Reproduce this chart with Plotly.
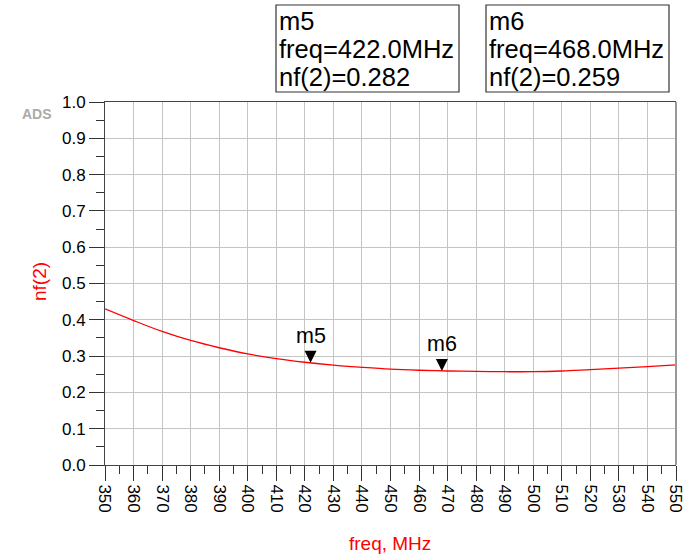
import plotly.graph_objects as go

freq = [350, 360, 370, 380, 390, 400, 410, 420, 430, 440, 450,
        460, 470, 480, 490, 500, 510, 520, 530, 540, 550]
nf2 = [0.430, 0.398, 0.368, 0.343, 0.323, 0.306, 0.293, 0.283, 0.275, 0.269, 0.264,
       0.261, 0.259, 0.258, 0.257, 0.257, 0.259, 0.263, 0.267, 0.271, 0.276]

marker_names = ["m5", "m6"]
marker_freq = [422.0, 468.0]
marker_nf = [0.282, 0.259]

x_ticks = list(range(350, 551, 10))
y_ticks = [round(i * 0.1, 1) for i in range(11)]

FONT = "Arial, 'Liberation Sans', sans-serif"

fig = go.Figure()
fig.add_trace(go.Scatter(x=freq, y=nf2, mode="lines", line=dict(color="#ff0000", width=1.3, shape="spline"),
                         hoverinfo="skip", showlegend=False))

shapes = []
annotations = []
for name, fx, fy in zip(marker_names, marker_freq, marker_nf):
    shapes.append(dict(type="path", xref="x", yref="y", xsizemode="pixel", ysizemode="pixel",
                       xanchor=fx, yanchor=fy, path="M-6,12 L6,12 L0,0 Z",
                       fillcolor="black", line=dict(color="black", width=0)))
    annotations.append(dict(x=fx, y=fy, xref="x", yref="y", text=name, showarrow=False,
                            yanchor="bottom", xanchor="center", yshift=13,
                            font=dict(family=FONT, size=21.5, color="black")))

# pixel helpers for the plot frame
PX0, PX1, PY0, PY1 = 105, 676, 102, 465
def px(xp):
    return (xp - PX0) / (PX1 - PX0)
def py(yp):
    return (PY1 - yp) / (PY1 - PY0)

boxes = [(276, 459), (486, 669)]
for (bx0, bx1), name, fx, fy in zip(boxes, marker_names, marker_freq, marker_nf):
    shapes.append(dict(type="rect", xref="paper", yref="paper", x0=px(bx0), x1=px(bx1),
                       y0=py(92), y1=py(5), line=dict(color="#333333", width=1.2), fillcolor="white"))
    lines = [name, f"freq={fx:.1f}MHz", f"nf(2)={fy:.3f}"]
    for i, t in enumerate(lines):
        annotations.append(dict(x=px(bx0 + 1), y=py(21 + 28 * i), xref="paper", yref="paper", text=t,
                                showarrow=False, xanchor="left", yanchor="middle",
                                font=dict(family=FONT, size=25.5, color="black")))

# right border
shapes.append(dict(type="line", xref="paper", yref="paper", x0=1, x1=1, y0=0, y1=1,
                   line=dict(color="#999999", width=2)))

annotations.append(dict(x=px(37), y=py(114), xref="paper", yref="paper", text="<b>ADS</b>", showarrow=False,
                        xanchor="center", yanchor="middle",
                        font=dict(family=FONT, size=14, color="#aaaaaa")))

# axis titles
annotations.append(dict(x=px(390), y=py(543), xref="paper", yref="paper", text="freq, MHz", showarrow=False,
                        xanchor="center", yanchor="middle",
                        font=dict(family=FONT, size=19, color="#ff0000")))
annotations.append(dict(x=px(39), y=py(282), xref="paper", yref="paper", text="nf(2)", showarrow=False,
                        xanchor="center", yanchor="middle", textangle=-90,
                        font=dict(family=FONT, size=19, color="#ff0000")))

fig.update_layout(
    width=693, height=554,
    margin=dict(l=105, r=17, t=102, b=89),
    plot_bgcolor="white", paper_bgcolor="white",
    shapes=shapes, annotations=annotations,
    showlegend=False,
    xaxis=dict(range=[350, 550], tickvals=x_ticks, ticktext=[str(v) for v in x_ticks],
               tickangle=90, ticks="outside", ticklen=15, tickcolor="#333333", tickwidth=1,
               showline=True, linecolor="#444444", linewidth=1, mirror=True, automargin=False,
               showgrid=True, gridcolor="#c4c4c4", gridwidth=1, zeroline=False,
               tickfont=dict(family=FONT, size=17, color="black"),
               minor=dict(dtick=5, ticklen=8, tickcolor="#333333", ticks="outside", showgrid=False)),
    yaxis=dict(range=[0, 1], tickvals=y_ticks, ticktext=[f"{v:.1f}" for v in y_ticks],
               ticks="outside", ticklen=15, tickcolor="#333333", tickwidth=1,
               showline=True, linecolor="#444444", linewidth=1, mirror=False, automargin=False,
               showgrid=True, gridcolor="#c4c4c4", gridwidth=1, zeroline=False,
               tickfont=dict(family=FONT, size=17, color="black"),
               minor=dict(dtick=0.05, ticklen=8, tickcolor="#333333", ticks="outside", showgrid=False)),
)

fig.write_html("out.html", config={"displayModeBar": False},
               post_script="document.body.style.margin='0';document.body.style.overflow='hidden';")
